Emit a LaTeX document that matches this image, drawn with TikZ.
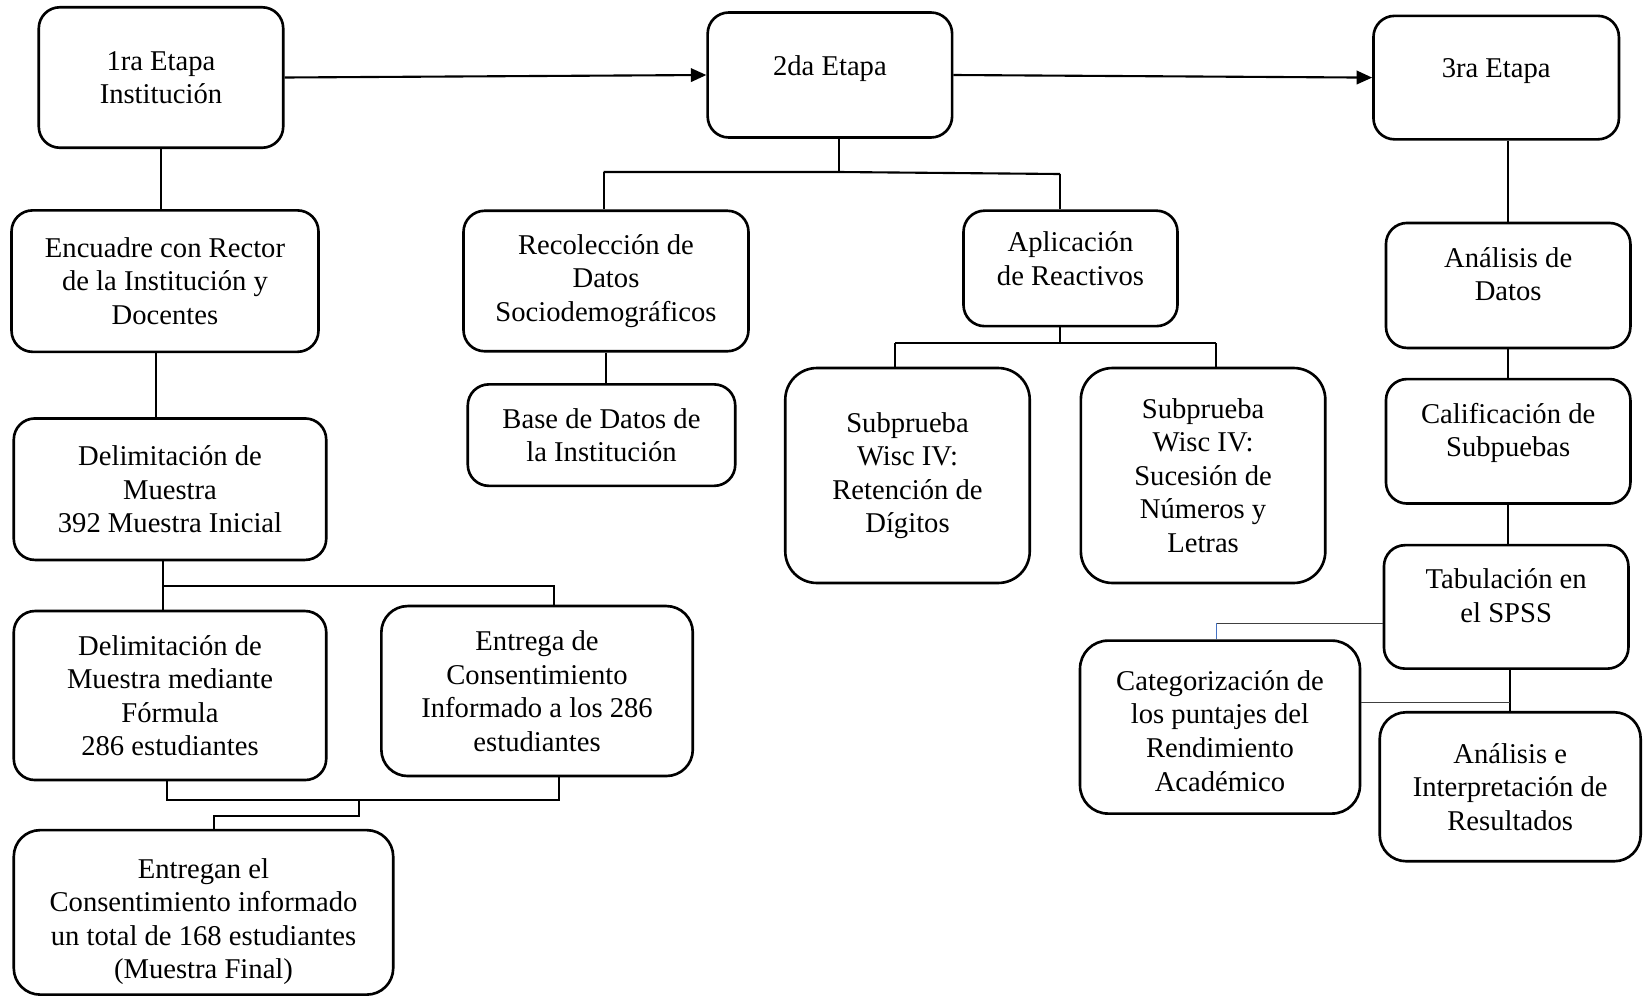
\documentclass[tikz,border=0pt]{standalone}
\usepackage{fontspec}
\setmainfont{Liberation Serif}
\usepackage{xcolor}
\usepackage{tikz}
\usetikzlibrary{arrows.meta,positioning}
\definecolor{linkblue}{RGB}{68,114,196}
\tikzset{
  stagebox/.style={
    rectangle,
    rounded corners=12pt,
    draw=black,
    line width=1.5pt,
    align=center,
    inner sep=2pt,
    font=\fontsize{16.3}{19.1}\selectfont
  },
  linkline/.style={
    draw=black,
    line width=1.2pt
  },
  thinline/.style={
    draw=black!75,
    line width=0.7pt
  },
  linkarrow/.style={
    -{Triangle[length=0.31cm,width=0.27cm]},
    line width=1.2pt,
    draw=black
  }
}
\begin{document}
\begin{tikzpicture}[x=0.02cm,y=-0.02cm]
\useasboundingbox (0,0) rectangle (1644,998);
% etapas
\node[stagebox, minimum width=4.89cm, minimum height=2.81cm] (st1) at (161,77.5) {1ra Etapa\\Institución};
\node[stagebox, minimum width=4.89cm, minimum height=2.5cm, text depth=11pt] (st2) at (829.9,75) {2da Etapa};
\node[stagebox, minimum width=4.91cm, minimum height=2.47cm, text depth=11pt] (st3) at (1496.2,77.6) {3ra Etapa};

% primera etapa
\node[stagebox, minimum width=6.14cm, minimum height=2.83cm, below=1.2cm of st1, xshift=0.08cm] (encuadre) {Encuadre con Rector\\de la Institución y\\Docentes};
\node[stagebox, minimum width=6.25cm, minimum height=2.83cm, below=1.28cm of encuadre, xshift=0.1cm] (delim) {Delimitación de\\Muestra\\392 Muestra Inicial};
\node[stagebox, minimum width=6.25cm, minimum height=3.38cm, below=0.97cm of delim] (formula) {Delimitación de\\Muestra mediante\\Fórmula\\286 estudiantes};
\node[stagebox, rounded corners=15pt, minimum width=6.23cm, minimum height=3.4cm, right=1.05cm of formula, yshift=0.09cm] (entrega) {Entrega de\\Consentimiento\\Informado a los 286\\estudiantes};
\node[stagebox, rounded corners=15pt, minimum width=7.59cm, minimum height=3.29cm, text height=79pt, below=0.95cm of formula.south west, anchor=north west] (entregan) {Entregan el\\Consentimiento informado\\un total de 168 estudiantes\\(Muestra Final)};

% segunda etapa
\node[stagebox, minimum width=5.7cm, minimum height=2.81cm] (recoleccion) at (606,281) {Recolección de\\Datos\\Sociodemográficos};
\node[stagebox, minimum width=5.35cm, minimum height=2.03cm, below=0.61cm of recoleccion, xshift=-0.09cm] (base) {Base de Datos de\\la Institución};
\node[stagebox, minimum width=4.28cm, minimum height=2.31cm, text depth=11pt] (aplicacion) at (1070.5,268.4) {Aplicación\\de Reactivos};
\node[stagebox, rounded corners=18pt, minimum width=4.89cm, minimum height=4.3cm] (retencion) at (907.5,475.5) {Subprueba\\Wisc IV:\\Retención de\\Dígitos};
\node[stagebox, rounded corners=18pt, minimum width=4.89cm, minimum height=4.3cm, right=0.97cm of retencion] (sucesion) {Subprueba\\Wisc IV:\\Sucesión de\\Números y\\Letras};

% tercera etapa
\node[stagebox, minimum width=4.89cm, minimum height=2.5cm, text depth=13pt, below=1.62cm of st3, xshift=0.24cm] (analisis) {Análisis de\\Datos};
\node[stagebox, minimum width=4.89cm, minimum height=2.49cm, text depth=13pt, below=0.57cm of analisis] (calificacion) {Calificación de\\Subpuebas};
\node[stagebox, minimum width=4.89cm, minimum height=2.47cm, text depth=13pt, below=0.78cm of calificacion, xshift=-0.04cm] (tabulacion) {Tabulación en\\el SPSS};
\node[stagebox, rounded corners=15pt, minimum width=5.22cm, minimum height=2.98cm, below=0.82cm of tabulacion, xshift=0.08cm] (interpretacion) {Análisis e\\Interpretación de\\Resultados};
\node[stagebox, rounded corners=16pt, minimum width=5.6cm, minimum height=3.46cm, text height=73pt] (categorizacion) at (1220,727.1) {Categorización de\\los puntajes del\\Rendimiento\\Académico};

% flechas entre etapas
\draw[linkarrow] (st1.east) -- (st2.west);
\draw[linkarrow] (st2.east) -- (st3.west);

% uniones primera etapa
\coordinate (jdelim) at (163,585.7);
\coordinate (jentrega) at (553.6,585.7);
\coordinate (jform) at (167.4,800);
\coordinate (jentr) at (559.4,800);
\coordinate (jmid) at (359.4,800);
\coordinate (jmidlow) at (359.4,816);
\coordinate (jfinal) at (214.3,816);
\draw[linkline] (st1.south) -- (st1.south |- encuadre.north);
\draw[linkline] ([xshift=-0.18cm]encuadre.south) -- ([xshift=-0.18cm]encuadre.south |- delim.north);
\draw[linkline] (delim.south -| jdelim) -- (formula.north -| jdelim);
\draw[linkline] (jdelim) -- (jentrega) -- (entrega.north -| jentrega);
\draw[linkline] (formula.south -| jform) -- (jform) -- (jentr) -- (entrega.south -| jentr);
\draw[linkline] (jmid) -- (jmidlow) -- (jfinal) -- (entregan.north -| jfinal);

% uniones segunda etapa
\coordinate (jst2) at (839,172);
\coordinate (jrec) at (603.6,172);
\coordinate (japl) at (1060,174);
\coordinate (japlb) at (1060,343.3);
\coordinate (jret) at (895,343.3);
\coordinate (jsuc) at (1216,343.3);
\draw[linkline] (st2.south -| jst2) -- (jst2);
\draw[linkline] (jrec) -- (jst2) -- (japl);
\draw[linkline] (jrec) -- (recoleccion.north -| jrec);
\draw[linkline] (japl) -- (aplicacion.north -| japl);
\draw[linkline] (recoleccion.south) -- (recoleccion.south |- base.north);
\draw[linkline] (aplicacion.south -| japlb) -- (japlb);
\draw[linkline] (jret) -- (jsuc);
\draw[linkline] (jret) -- (retencion.north -| jret);
\draw[linkline] (jsuc) -- (sucesion.north -| jsuc);

% uniones tercera etapa
\coordinate (jcat) at (1510.4,702.7);
\coordinate (jtab) at (1216.4,623.3);
\draw[linkline] (st3.south -| analisis) -- (analisis.north);
\draw[linkline] (analisis.south) -- (calificacion.north);
\draw[linkline] (calificacion.south) -- (calificacion.south |- tabulacion.north);
\draw[linkline] (tabulacion.south -| interpretacion) -- (interpretacion.north);
\draw[thinline] (categorizacion.east |- jcat) -- (jcat);
\draw[thinline] (tabulacion.west |- jtab) -- (jtab);
\draw[thinline, draw=linkblue] (jtab) -- (categorizacion.north -| jtab);
\end{tikzpicture}
\end{document}
